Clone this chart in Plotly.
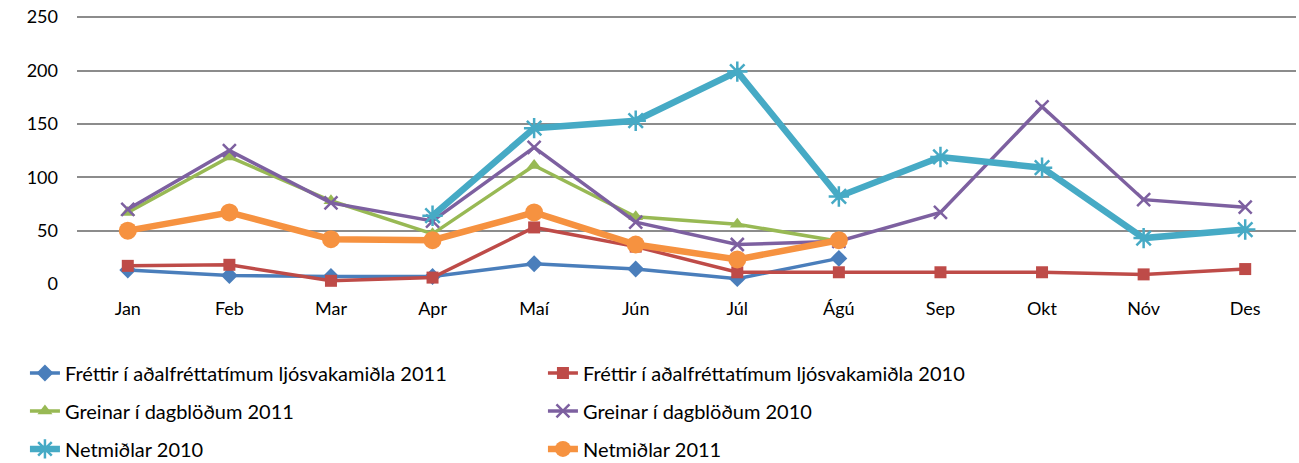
import plotly.graph_objects as go

months = ["Jan", "Feb", "Mar", "Apr", "Maí", "Jún", "Júl", "Ágú", "Sep", "Okt", "Nóv", "Des"]

frettir_2011 = [13, 8, 7, 7, 19, 14, 5, 24, None, None, None, None]
frettir_2010 = [17, 18, 3, 6, 53, 35, 11, 11, 11, 11, 9, 14]
greinar_2011 = [67, 119, 78, 47, 111, 63, 56, 40, None, None, None, None]
greinar_2010 = [70, 125, 76, 59, 128, 58, 37, 40, 67, 166, 79, 72]
netmidlar_2010 = [None, None, None, 64, 146, 153, 199, 82, 119, 109, 43, 51]
netmidlar_2011 = [50, 67, 42, 41, 67, 37, 23, 41, None, None, None, None]

y_ticks = [0, 50, 100, 150, 200, 250]

series = [
    ("Fréttir í aðalfréttatímum ljósvakamiðla 2011", frettir_2011, "#4A7EBB", 3.5, "diamond", 13, "legend"),
    ("Fréttir í aðalfréttatímum ljósvakamiðla 2010", frettir_2010, "#BE4B48", 3.5, "square", 12, "legend"),
    ("Greinar í dagblöðum 2011", greinar_2011, "#98B954", 3.5, "triangle-up", 13, "legend2"),
    ("Greinar í dagblöðum 2010", greinar_2010, "#7D60A0", 3.5, "x-thin-open", 13, "legend2"),
    ("Netmiðlar 2010", netmidlar_2010, "#46AAC5", 6.5, "asterisk-open", 17, "legend3"),
    ("Netmiðlar 2011", netmidlar_2011, "#F69240", 6.5, "circle", 18, "legend3"),
]

fig = go.Figure()
for name, vals, color, lw, sym, ms, lg in series:
    marker = dict(symbol=sym, size=ms, color=color)
    if sym.endswith("open"):
        marker["line"] = dict(color=color, width=2.5)
    fig.add_trace(go.Scatter(
        x=months, y=vals, name=name, mode="lines+markers",
        line=dict(color=color, width=lw), marker=marker,
        connectgaps=False, legend=lg, cliponaxis=False,
    ))

FONT = "Lato"
leg_common = dict(
    orientation="h", xanchor="left", yanchor="middle",
    entrywidth=473, entrywidthmode="pixels",
    font=dict(family=FONT, size=20, color="#000000"),
    bgcolor="rgba(0,0,0,0)", itemwidth=30,
)

LX = -0.0427

fig.update_layout(
    width=1299, height=463,
    margin=dict(l=77, r=3, t=15, b=179, autoexpand=False),
    paper_bgcolor="white", plot_bgcolor="white",
    font=dict(family=FONT, size=18, color="#000000"),
    hovermode=False,
    xaxis=dict(
        type="category", categoryorder="array", categoryarray=months,
        showgrid=False, zeroline=False, showline=False, ticks="",
        tickfont=dict(family=FONT, size=18), ticklabelstandoff=12,
        range=[-0.5, 11.5],
    ),
    yaxis=dict(
        range=[0, 252], tickvals=y_ticks, ticktext=[str(v) for v in y_ticks],
        showgrid=True, gridcolor="#8C8C8C", gridwidth=2,
        zeroline=False, showline=False, ticks="",
        tickfont=dict(family=FONT, size=18), ticklabelstandoff=18,
    ),
    legend=dict(x=LX, y=-0.331, **leg_common),
    legend2=dict(x=LX, y=-0.472, **leg_common),
    legend3=dict(x=LX, y=-0.613, **leg_common),
    showlegend=True,
)

fig.write_html(
    "out.html",
    config={"displayModeBar": False},
    post_script="document.body.style.margin='0';document.body.style.overflow='hidden';",
)
